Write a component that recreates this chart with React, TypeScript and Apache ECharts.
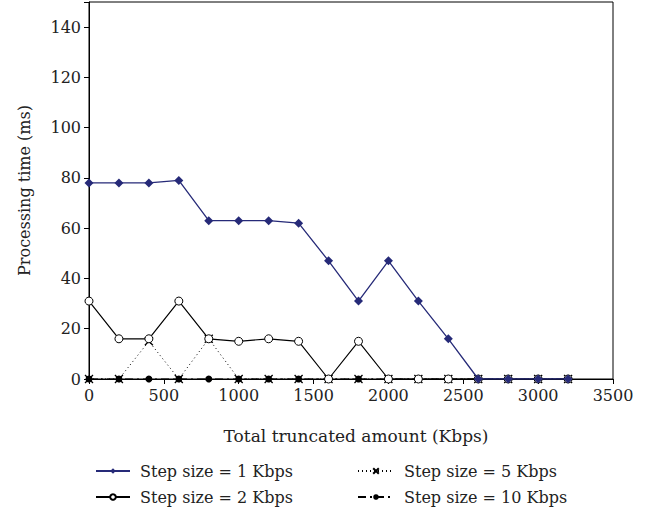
import React, { useEffect, useRef } from "react";
import * as echarts from "echarts";

const xValues = [0, 200, 400, 600, 800, 1000, 1200, 1400, 1600, 1800, 2000, 2200, 2400, 2600, 2800, 3000, 3200];
const step1 = [78, 78, 78, 79, 63, 63, 63, 62, 47, 31, 47, 31, 16, 0, 0, 0, 0];
const step2 = [31, 16, 16, 31, 16, 15, 16, 15, 0, 15, 0, 0, 0, 0, 0, 0, 0];
const step5 = [0, 0, 15, 0, 16, 0, 0, 0, 0, 0, 0, 0, 0, 0, 0, 0, 0];
const step10 = [0, 0, 0, 0, 0, 0, 0, 0, 0, 0, 0, 0, 0, 0, 0, 0, 0];
const seriesNames = ["Step size = 1 Kbps", "Step size = 2 Kbps", "Step size = 5 Kbps", "Step size = 10 Kbps"];

const FONT = "DejaVu Serif";
const NAVY = "#262a78";

const pairs = (ys: number[]) => xValues.map((x, i) => [x, ys[i]]);

export default function App() {
  const ref = useRef<HTMLDivElement>(null);
  useEffect(() => {
    if (!ref.current) return;
    const chart = echarts.init(ref.current, undefined, { renderer: "svg" });
    const textStyle = { fontFamily: FONT, fontSize: 16, color: "#222" };
    chart.setOption({
      animation: false,
      textStyle: { fontFamily: FONT },
      grid: { left: 89, right: 40, top: 2, bottom: 137, show: true, borderColor: "#000", borderWidth: 1 },
      xAxis: {
        type: "value",
        min: 0,
        max: 3500,
        interval: 500,
        name: "Total truncated amount (Kbps)",
        nameLocation: "middle",
        nameGap: 48,
        nameTextStyle: { ...textStyle, fontSize: 17, padding: [0, 0, 0, 10] },
        axisLine: { lineStyle: { color: "#000" } },
        axisTick: { show: true, length: 5, lineStyle: { color: "#000" } },
        axisLabel: { ...textStyle, margin: 8, formatter: (v: number) => String(v) },
        splitLine: { show: false },
      },
      yAxis: {
        type: "value",
        min: 0,
        max: 150,
        interval: 20,
        name: "Processing time (ms)",
        nameLocation: "middle",
        nameGap: 57,
        nameTextStyle: textStyle,
        axisLine: { show: true, lineStyle: { color: "#000" } },
        axisTick: { show: true, length: 5, lineStyle: { color: "#000" } },
        axisLabel: {
          ...textStyle,
          margin: 8,
          formatter: (v: number) => (v % 20 === 0 && v <= 140 ? String(v) : ""),
        },
        splitLine: { show: false },
      },
      legend: [
        {
          data: [seriesNames[0], seriesNames[1]],
          orient: "vertical",
          left: 90,
          top: 458,
          itemWidth: 34,
          itemHeight: 7,
          itemGap: 10,
          textStyle: { ...textStyle, padding: [0, 0, 0, 5] },
        },
        {
          data: [seriesNames[2], seriesNames[3]],
          orient: "vertical",
          left: 352,
          top: 458,
          itemWidth: 36,
          itemHeight: 7,
          itemGap: 10,
          textStyle: { ...textStyle, padding: [0, 0, 0, 5] },
        },
      ],
      series: [
        {
          name: seriesNames[3],
          type: "line",
          data: pairs(step10),
          symbol: "circle",
          symbolSize: 7,
          itemStyle: { color: "#000" },
          lineStyle: { color: "#000", width: 1, type: [8, 4, 2, 4] },
          z: 2,
        },
        {
          name: seriesNames[2],
          type: "line",
          data: pairs(step5),
          symbol: "path://M0,0L10,10M10,0L0,10",
          symbolSize: 8,
          itemStyle: { color: "none", borderColor: "#000", borderWidth: 1.3 },
          lineStyle: { color: "#000", width: 1, type: [1, 3] },
          z: 3,
        },
        {
          name: seriesNames[1],
          type: "line",
          data: pairs(step2),
          symbol: "circle",
          symbolSize: 8,
          itemStyle: { color: "#fff", borderColor: "#000", borderWidth: 1 },
          lineStyle: { color: "#000", width: 1.2 },
          z: 4,
        },
        {
          name: seriesNames[0],
          type: "line",
          data: pairs(step1),
          symbol: "diamond",
          symbolSize: 9,
          itemStyle: { color: NAVY },
          lineStyle: { color: NAVY, width: 1.3 },
          z: 5,
        },
      ],
    });
    return () => chart.dispose();
  }, []);
  return <div ref={ref} style={{ width: 653, height: 516, position: "absolute", left: 0, top: 0 }} />;
}
